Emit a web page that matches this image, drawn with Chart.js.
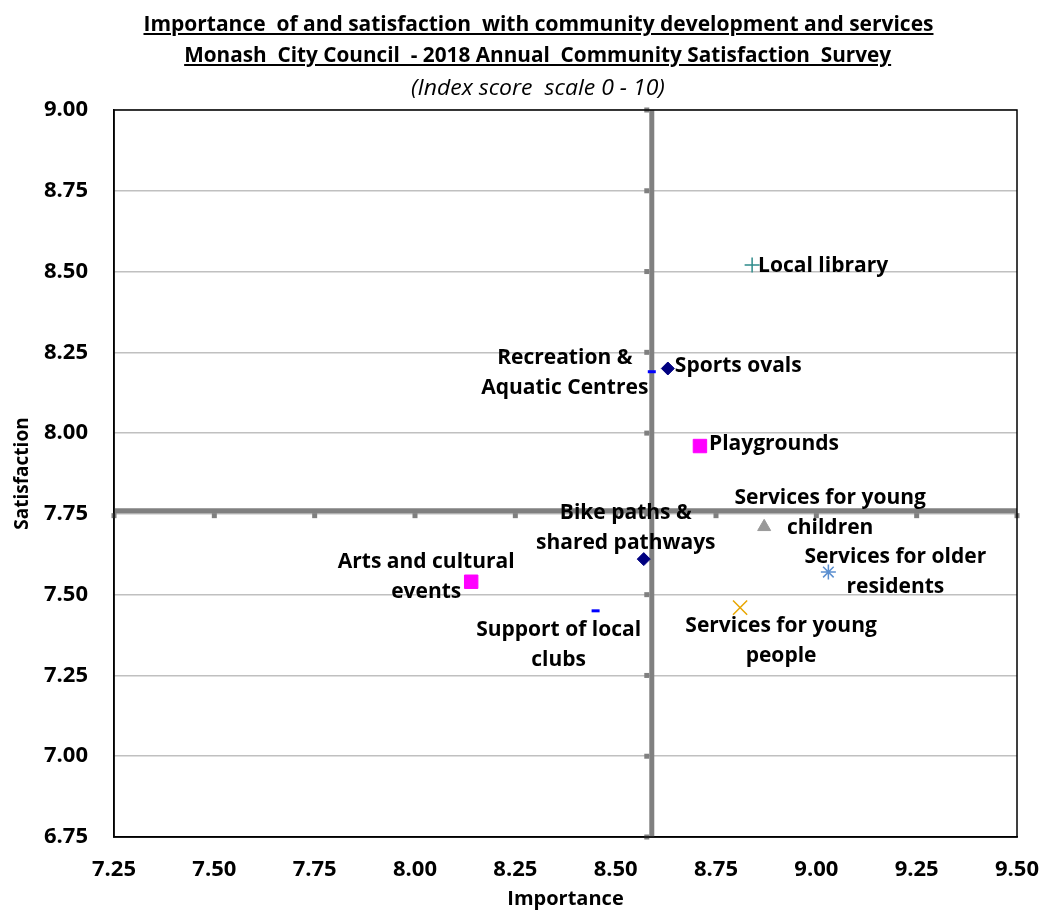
<!DOCTYPE html>
<html><head><meta charset="utf-8">
<script src="https://cdn.jsdelivr.net/npm/chart.js@4.4.0/dist/chart.umd.min.js"></script>
<style>
html,body{margin:0;padding:0;background:#fff;}
#wrap{position:relative;width:1040px;height:911px;overflow:hidden;background:#fff;}
canvas{position:absolute;left:0;top:0;}
.tl{position:absolute;left:0;width:1076px;text-align:center;font-family:'Open Sans',sans-serif;font-size:21px;line-height:31px;white-space:pre;color:#000;}
.tl span{display:inline-block;transform-origin:center center;white-space:pre;}
.u{font-weight:bold;text-decoration:underline;text-underline-offset:2px;text-decoration-thickness:1.5px;}
.it{font-style:italic;}
</style></head>
<body><div id="wrap"><canvas id="c" width="1040" height="911"></canvas>
<div class="tl" style="top:8px"><span class="u" data-w="790">Importance  of and satisfaction  with community development and services</span></div>
<div class="tl" style="top:39px"><span class="u" data-w="707">Monash  City Council  - 2018 Annual  Community Satisfaction  Survey</span></div>
<div class="tl" style="top:72px"><span class="it" data-w="254">(Index score  scale 0 - 10)</span></div>
</div>
<script>
// ---- data ----
const items = ['Local library','Sports ovals','Recreation & Aquatic Centres','Playgrounds','Services for young children','Services for older residents','Services for young people','Bike paths & shared pathways','Arts and cultural events','Support of local clubs'];
const importance   = [8.84, 8.63, 8.59, 8.71, 8.87, 9.03, 8.81, 8.57, 8.14, 8.45];
const satisfaction = [8.52, 8.20, 8.19, 7.96, 7.71, 7.57, 7.46, 7.61, 7.54, 7.45];
const avgImportance = 8.59;
const avgSatisfaction = 7.76;
const xTickValues = [7.25, 7.50, 7.75, 8.00, 8.25, 8.50, 8.75, 9.00, 9.25, 9.50];
const yTickValues = [6.75, 7.00, 7.25, 7.50, 7.75, 8.00, 8.25, 8.50, 8.75, 9.00];
const labelLines = [['Local library'],['Sports ovals'],['Recreation &','Aquatic Centres'],['Playgrounds'],['Services for young','children'],['Services for older','residents'],['Services for young','people'],['Bike paths &','shared pathways'],['Arts and cultural','events'],['Support of local','clubs']];

// ---- styles ----
const markerStyles = [
  {style:'cross',    color:'#2E8B8B', radius:7.5, width:1.5},
  {style:'rectRot',  color:'#000080', radius:6.5, width:1},
  {style:'line',     color:'#0000FF', radius:4,   width:3},
  {style:'rect',     color:'#FF00FF', radius:9.5, width:1},
  {style:'triangle', color:'#999999', radius:7.5, width:1},
  {style:'star',     color:'#5B8FD0', radius:7.5, width:1.5},
  {style:'crossRot', color:'#E8A600', radius:10,  width:1.5},
  {style:'rectRot',  color:'#000080', radius:6.5, width:1},
  {style:'rect',     color:'#FF00FF', radius:9.5, width:1},
  {style:'line',     color:'#0000FF', radius:4,   width:3}
];
const labelLayout = [
  {align:'left',   dx:6,   dy:1},
  {align:'left',   dx:7,   dy:-2},
  {align:'center', dx:-87, dy:1},
  {align:'left',   dx:9,   dy:-2},
  {align:'center', dx:66,  dy:-14},
  {align:'center', dx:67,  dy:0},
  {align:'center', dx:41,  dy:33},
  {align:'center', dx:-18, dy:-31},
  {align:'center', dx:-45, dy:-5},
  {align:'center', dx:-37, dy:34}
];
const FONT = "'Open Sans', sans-serif";
const labelFont = 'bold 21px ' + FONT;
const labelLineHeight = 30;

// fit title widths
document.querySelectorAll('.tl span').forEach(s => {
  const w = s.getBoundingClientRect().width;
  const t = parseFloat(s.dataset.w);
  s.style.transform = 'scaleX(' + (t / w) + ')';
});

const pointSets = items.map((name, i) => ({
  type: 'scatter', label: name,
  data: [{x: importance[i], y: satisfaction[i]}],
  pointStyle: markerStyles[i].style,
  pointRadius: markerStyles[i].radius,
  pointHoverRadius: markerStyles[i].radius,
  pointBackgroundColor: markerStyles[i].color,
  pointBorderColor: markerStyles[i].color,
  pointBorderWidth: markerStyles[i].width,
  order: 0
}));
const refSets = [
  {type:'line', label:'Average importance', data:[{x:avgImportance, y:yTickValues[0]},{x:avgImportance, y:yTickValues[yTickValues.length-1]}],
   borderColor:'#808080', borderWidth:5, pointRadius:0, borderCapStyle:'butt', order:1, clip:false},
  {type:'line', label:'Average satisfaction', data:[{x:xTickValues[0], y:avgSatisfaction},{x:xTickValues[xTickValues.length-1], y:avgSatisfaction}],
   borderColor:'#808080', borderWidth:5, pointRadius:0, borderCapStyle:'butt', order:1, clip:false}
];

const quadrantPlugin = {
  id: 'quadrant',
  afterDatasetsDraw(chart) {
    const {ctx, scales: {x, y}} = chart;
    ctx.save();
    ctx.fillStyle = '#808080';
    const xl = x.getPixelForValue(avgImportance);
    yTickValues.forEach(v => { const py = y.getPixelForValue(v); ctx.fillRect(xl - 7.5, py - 2.5, 5, 5); });
    const yl = y.getPixelForValue(avgSatisfaction);
    xTickValues.forEach(v => { const px = x.getPixelForValue(v); ctx.fillRect(px - 2.5, yl + 2.5, 5, 5); });
    // labels
    ctx.font = labelFont;
    ctx.fillStyle = '#000';
    ctx.textBaseline = 'middle';
    items.forEach((name, i) => {
      const el = chart.getDatasetMeta(i).data[0];
      const L = labelLayout[i];
      const lines = labelLines[i];
      ctx.textAlign = L.align;
      const cy = el.y + L.dy;
      const top = cy - (lines.length - 1) * labelLineHeight / 2;
      lines.forEach((ln, k) => ctx.fillText(ln, el.x + L.dx, top + k * labelLineHeight));
    });
    ctx.restore();
  },
  afterDraw(chart) {
    const {ctx, chartArea: a} = chart;
    ctx.save();
    ctx.strokeStyle = '#000';
    ctx.lineWidth = 1.5;
    ctx.strokeRect(a.left, a.top, a.right - a.left, a.bottom - a.top);
    ctx.restore();
  }
};

const tickFont = {family: FONT, weight: 'bold', size: 22};
new Chart(document.getElementById('c'), {
  type: 'scatter',
  data: {datasets: [...pointSets, ...refSets]},
  options: {
    responsive: false, animation: false,
    layout: {padding: {top: 110, right: 0, bottom: 0, left: 0}},
    plugins: {legend: {display: false}, title: {display: false}, tooltip: {enabled: false}},
    scales: {
      x: {
        type: 'linear', min: xTickValues[0], max: xTickValues[xTickValues.length-1],
        afterBuildTicks: s => { s.ticks = xTickValues.map(v => ({value: v})); },
        afterFit: s => { s.height = 74; s.paddingLeft = 0; s.paddingRight = 23; },
        ticks: {callback: v => v.toFixed(2), font: tickFont, color: '#000', padding: 20, maxRotation: 0, autoSkip: false},
        grid: {display: false, drawTicks: false},
        border: {display: true, color: '#000', width: 1.5},
        title: {display: true, text: 'Importance', font: {family: FONT, weight: 'bold', size: 20}, color: '#000', padding: 0}
      },
      y: {
        type: 'linear', min: yTickValues[0], max: yTickValues[yTickValues.length-1],
        afterBuildTicks: s => { s.ticks = yTickValues.map(v => ({value: v})); },
        afterFit: s => { s.width = 114; s.paddingTop = 0; s.paddingBottom = 0; },
        ticks: {callback: v => v.toFixed(2), font: tickFont, color: '#000', padding: 26, autoSkip: false},
        grid: {color: '#C0C0C0', lineWidth: 1.5, drawTicks: false},
        border: {display: true, color: '#000', width: 1.5},
        title: {display: true, text: 'Satisfaction', font: {family: FONT, weight: 'bold', size: 19}, color: '#000', padding: {top: 11, bottom: 0}}
      }
    }
  },
  plugins: [quadrantPlugin]
});
</script>
</body></html>
